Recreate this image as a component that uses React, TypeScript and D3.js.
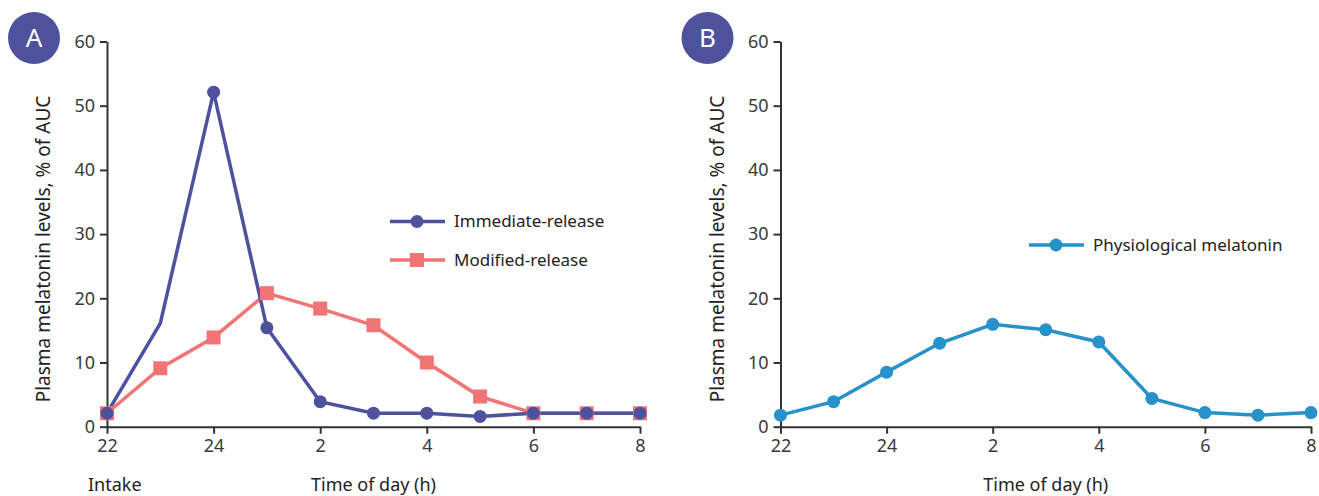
import React, { useEffect, useRef } from "react";
import * as d3 from "d3";

const hours = ["22", "23", "24", "1", "2", "3", "4", "5", "6", "7", "8"];
const tickHours = [0, 2, 4, 6, 8, 10];
const yTicks = [0, 10, 20, 30, 40, 50, 60];

const immediate = [2.1, 16.1, 52.1, 15.4, 3.9, 2.1, 2.1, 1.6, 2.1, 2.1, 2.1];
// the 23h reading of immediate-release has no marker in the source figure
const immediateMarker = [true, false, true, true, true, true, true, true, true, true, true];
const modified = [2.1, 9.1, 13.9, 20.8, 18.4, 15.8, 10.0, 4.7, 2.1, 2.1, 2.1];
const physiological = [1.8, 3.9, 8.5, 13.0, 15.95, 15.1, 13.2, 4.4, 2.2, 1.8, 2.2];

const PURPLE = "#4e529c";
const SALMON = "#f27474";
const BLUE = "#2692c9";
const INK = "#333";
const FONT = "'Noto Sans', sans-serif";

const W = 1319;
const H = 496;
const Y0 = 426.7;
const Y60 = 41.5;

type Series = {
  values: number[];
  color: string;
  shape: "circle" | "square";
  show?: boolean[];
  label: string;
};

function Axes({ x, y }: { x: d3.ScaleLinear<number, number>; y: d3.ScaleLinear<number, number> }) {
  const gx = useRef<SVGGElement>(null);
  const gy = useRef<SVGGElement>(null);
  useEffect(() => {
    const ax = d3
      .axisBottom(x)
      .tickValues(tickHours)
      .tickFormat((d) => hours[d as number])
      .tickSize(7)
      .tickSizeOuter(0)
      .tickPadding(6);
    const ay = d3.axisLeft(y).tickValues(yTicks).tickSize(7).tickSizeOuter(0).tickPadding(5);
    const sx = d3.select(gx.current!).call(ax);
    const sy = d3.select(gy.current!).call(ay);
    for (const s of [sx, sy]) {
      s.attr("font-family", FONT).attr("font-size", 18);
      s.selectAll("path, line").attr("stroke", INK).attr("stroke-width", 2);
      s.selectAll("text").attr("fill", "#3a3a3a");
    }
  }, [x, y]);
  return (
    <g>
      <g ref={gy} transform={`translate(${x.range()[0]},0)`} />
      <g ref={gx} transform={`translate(0,${Y0})`} />
    </g>
  );
}

function Panel({
  left,
  right,
  letter,
  series,
  legendX,
  legendY,
  intake,
}: {
  left: number;
  right: number;
  letter: string;
  series: Series[];
  legendX: number;
  legendY: number;
  intake?: boolean;
}) {
  const x = d3.scaleLinear().domain([0, 10]).range([left, right]);
  const y = d3.scaleLinear().domain([0, 60]).range([Y0, Y60]);
  const line = d3
    .line<number>()
    .x((_, i) => x(i))
    .y((d) => y(d));

  const marker = (s: Series, cx: number, cy: number, key: string | number) =>
    s.shape === "circle" ? (
      <circle key={key} cx={cx} cy={cy} r={6.5} fill={s.color} />
    ) : (
      <rect key={key} x={cx - 7} y={cy - 7} width={14} height={14} fill={s.color} />
    );

  const order = [...series].reverse();

  return (
    <g>
      <circle cx={left - 73} cy={38} r={26} fill={PURPLE} />
      <text
        x={left - 73}
        y={47}
        textAnchor="middle"
        fill="#fff"
        fontFamily={FONT}
        fontSize={26}
      >
        {letter}
      </text>
      <text
        transform={`translate(${left - 57},${249}) rotate(-90)`}
        textAnchor="middle"
        fontFamily={FONT}
        fontSize={19}
        fill="#222"
      >
        Plasma melatonin levels, % of AUC
      </text>
      <Axes x={x} y={y} />
      {order.map((s, k) => (
        <path key={"l" + k} d={line(s.values) ?? ""} fill="none" stroke={s.color} strokeWidth={3.5} />
      ))}
      {order.map((s, k) => (
        <g key={"m" + k}>
          {s.values.map((v, i) => ((s.show ? s.show[i] : true) ? marker(s, x(i), y(v), i) : null))}
        </g>
      ))}
      {series.map((s, k) => {
        const ly = legendY + k * 38.5;
        return (
          <g key={"lg" + k}>
            <line x1={legendX} x2={legendX + 55} y1={ly} y2={ly} stroke={s.color} strokeWidth={3.5} />
            {marker(s, legendX + 27, ly, "mk")}
            <text
              x={legendX + 64}
              y={ly}
              dy="0.35em"
              fontFamily={FONT}
              fontSize={17}
              fill="#222"
            >
              {s.label}
            </text>
          </g>
        );
      })}
      <text
        x={(left + right) / 2}
        y={491}
        textAnchor="middle"
        fontFamily={FONT}
        fontSize={18}
        fill="#222"
      >
        Time of day (h)
      </text>
      {intake && (
        <text x={left - 19} y={491} fontFamily={FONT} fontSize={18} fill="#222">
          Intake
        </text>
      )}
    </g>
  );
}

export default function App() {
  const seriesA: Series[] = [
    { values: immediate, color: PURPLE, shape: "circle", show: immediateMarker, label: "Immediate-release" },
    { values: modified, color: SALMON, shape: "square", label: "Modified-release" },
  ];
  const seriesB: Series[] = [
    { values: physiological, color: BLUE, shape: "circle", label: "Physiological melatonin" },
  ];
  return (
    <div style={{ position: "absolute", left: 0, top: 0 }}>
      <svg width={W} height={H} style={{ display: "block", background: "#fff" }}>
        <Panel left={107} right={640} letter="A" series={seriesA} legendX={390} legendY={221.5} intake />
        <Panel left={780.5} right={1311} letter="B" series={seriesB} legendX={1029} legendY={245} />
      </svg>
    </div>
  );
}
